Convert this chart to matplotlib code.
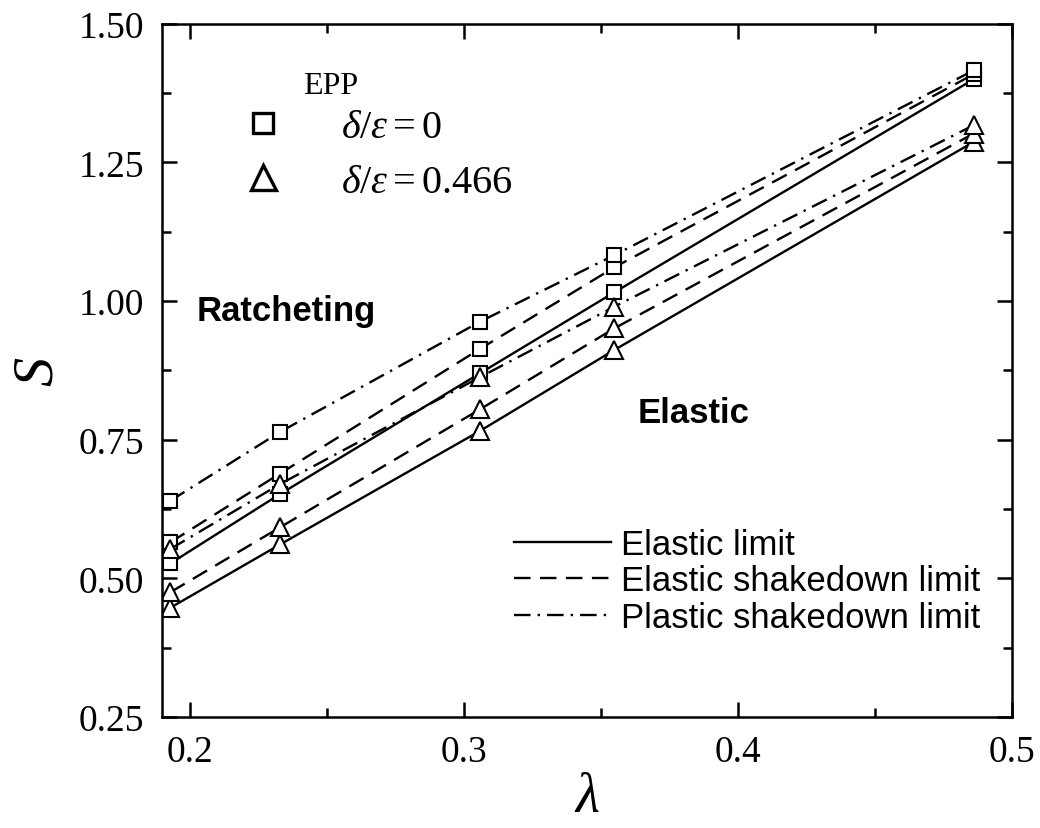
import numpy as np
import matplotlib.pyplot as plt
from matplotlib.lines import Line2D

# Datos
lam = [0.193, 0.233, 0.306, 0.355, 0.486]

# delta/epsilon = 0 (cuadrados)
sq_elastic = [0.527, 0.652, 0.870, 1.016, 1.400]
sq_esd = [0.565, 0.689, 0.914, 1.061, 1.409]
sq_psd = [0.640, 0.764, 0.963, 1.083, 1.416]

# delta/epsilon = 0.466 (triangulos)
tri_elastic = [0.447, 0.561, 0.766, 0.912, 1.287]
tri_esd = [0.475, 0.592, 0.805, 0.951, 1.302]
tri_psd = [0.553, 0.670, 0.863, 0.990, 1.317]

xticks = [0.2, 0.3, 0.4, 0.5]
xticklabels = ['0.2', '0.3', '0.4', '0.5']
yticks = [0.25, 0.50, 0.75, 1.00, 1.25, 1.50]
yticklabels = ['0.25', '0.50', '0.75', '1.00', '1.25', '1.50']

limit_names = ['Elastic limit', 'Elastic shakedown limit', 'Plastic shakedown limit']

plt.rcParams['mathtext.fontset'] = 'custom'
plt.rcParams['mathtext.rm'] = 'Liberation Serif'
plt.rcParams['mathtext.it'] = 'Liberation Serif:italic'

serif = 'Liberation Serif'
sans = 'Liberation Sans'

lw = 1.7
dash = (0, (7, 4))
dashdot = (0, (7, 3, 1, 3))
styles = ['-', dash, dashdot]

fig = plt.figure(figsize=(10.4, 8.29), dpi=100)
ax = fig.add_axes([0.156, 0.134, 0.817, 0.836])

# Curvas de cada grupo
grupos = [([sq_elastic, sq_esd, sq_psd], 's', 9.5),
          ([tri_elastic, tri_esd, tri_psd], '^', 12.5)]
for series, marker, ms in grupos:
    for y, ls in zip(series, styles):
        ax.plot(lam, y, color='k', lw=lw, linestyle=ls, marker=marker,
                markersize=ms, markerfacecolor='white', markeredgecolor='k',
                markeredgewidth=1.5)

ax.set_xlim(0.19, 0.5)
ax.set_ylim(0.25, 1.50)
ax.set_xticks(xticks)
ax.set_xticklabels(xticklabels, family=serif, fontsize=27)
ax.set_yticks(yticks)
ax.set_yticklabels(yticklabels, family=serif, fontsize=27)
ax.set_xticks([0.25, 0.35, 0.45], minor=True)
ax.set_yticks([0.375, 0.625, 0.875, 1.125, 1.375], minor=True)
ax.tick_params(which='both', direction='in', top=True, right=True, width=1.8)
ax.tick_params(which='major', length=11, pad=13)
ax.tick_params(which='minor', length=6.5)
for s in ax.spines.values():
    s.set_linewidth(1.8)

ax.set_xlabel(r'$\lambda$', fontsize=40, labelpad=0)
ax.set_ylabel(r'$S$', fontsize=42, labelpad=10)

# Textos de regiones
ax.text(0.04, 0.586, 'Ratcheting', transform=ax.transAxes, family=sans,
        fontweight='bold', fontsize=25, va='center')
ax.text(0.56, 0.439, 'Elastic', transform=ax.transAxes, family=sans,
        fontweight='bold', fontsize=25, va='center')
ax.text(0.198, 0.911, 'EPP', transform=ax.transAxes, family=serif,
        fontsize=23, ha='center', va='center')

# Leyenda de marcadores
h_mark = [Line2D([], [], ls='none', marker='s', ms=14, mfc='white', mec='k', mew=2.4),
          Line2D([], [], ls='none', marker='^', ms=18, mfc='white', mec='k', mew=2.4)]
leg1 = ax.legend(h_mark, [r'$\delta/\varepsilon = 0$', r'$\delta/\varepsilon = 0.466$'],
                 loc='upper left', bbox_to_anchor=(0.052, 0.9), frameon=False,
                 prop={'family': serif, 'size': 29},
                 handletextpad=0.95, labelspacing=0.42, borderaxespad=0.0)
ax.add_artist(leg1)

# Leyenda de lineas
h_line = [Line2D([], [], color='k', lw=lw, linestyle=ls) for ls in styles]
ax.legend(h_line, limit_names, loc='lower right', bbox_to_anchor=(1.0, 0.075),
          frameon=False, prop={'family': sans, 'size': 25},
          handlelength=2.8, handletextpad=0.3, labelspacing=0.1)

fig.savefig('out.png', dpi=100)
